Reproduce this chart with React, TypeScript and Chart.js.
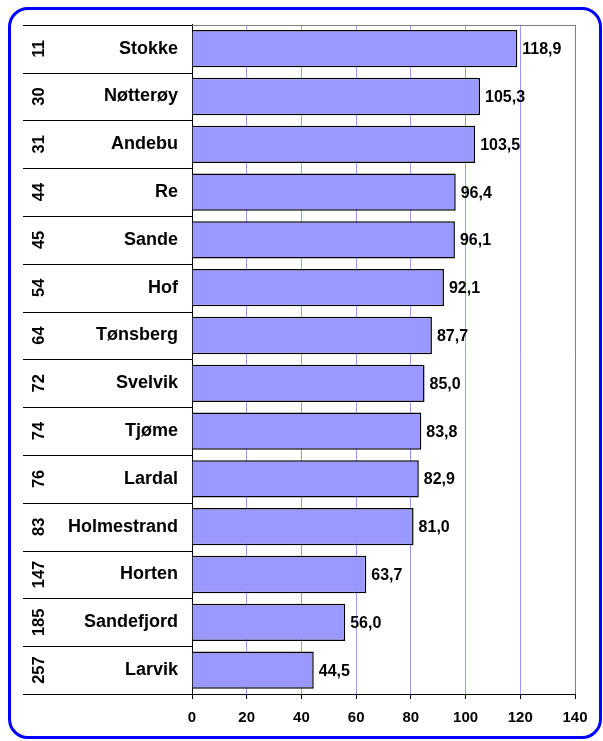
import React, { useEffect, useRef } from "react";
import { Chart, registerables } from "chart.js";

Chart.register(...registerables);

const ranks = ["11", "30", "31", "44", "45", "54", "64", "72", "74", "76", "83", "147", "185", "257"];
const municipalities = [
  "Stokke",
  "Nøtterøy",
  "Andebu",
  "Re",
  "Sande",
  "Hof",
  "Tønsberg",
  "Svelvik",
  "Tjøme",
  "Lardal",
  "Holmestrand",
  "Horten",
  "Sandefjord",
  "Larvik",
];
const values = [118.9, 105.3, 103.5, 96.4, 96.1, 92.1, 87.7, 85.0, 83.8, 82.9, 81.0, 63.7, 56.0, 44.5];
const xMin = 0;
const xMax = 140;
const xStep = 20;

const FONT = '"Liberation Sans", Arial, Helvetica, sans-serif';

export default function App() {
  const ref = useRef<HTMLCanvasElement>(null);

  useEffect(() => {
    const canvas = ref.current;
    if (!canvas) return;

    const extras = {
      id: "extras",
      afterDraw(chart: any) {
        const ctx = chart.ctx as CanvasRenderingContext2D;
        const y = chart.scales.y;
        const area = chart.chartArea;
        const n = municipalities.length;
        ctx.save();
        // category separators in the label area
        ctx.strokeStyle = "#000";
        ctx.lineWidth = 1;
        for (let i = 0; i <= n; i++) {
          const py = Math.round(y.top + (i * (y.bottom - y.top)) / n) + 0.5;
          ctx.beginPath();
          ctx.moveTo(23, py);
          ctx.lineTo(area.left, py);
          ctx.stroke();
        }
        // grey top/right frame of plot area
        ctx.strokeStyle = "#808080";
        const t = Math.round(area.top) + 0.5;
        const r = Math.round(area.right) + 0.5;
        ctx.beginPath();
        ctx.moveTo(area.left, t);
        ctx.lineTo(r, t);
        ctx.lineTo(r, area.bottom);
        ctx.stroke();

        // rank labels (rotated)
        ctx.fillStyle = "#000";
        ctx.font = `bold 16.5px ${FONT}`;
        ctx.textAlign = "center";
        ctx.textBaseline = "middle";
        ranks.forEach((rk, i) => {
          const py = y.getPixelForValue(i);
          ctx.save();
          ctx.translate(39, py);
          ctx.rotate(-Math.PI / 2);
          ctx.fillText(rk, 0, 0);
          ctx.restore();
        });

        // value labels
        const meta = chart.getDatasetMeta(0);
        ctx.textAlign = "left";
        ctx.font = `bold 16px ${FONT}`;
        meta.data.forEach((bar: any, i: number) => {
          ctx.fillText(values[i].toFixed(1).replace(".", ","), bar.x + 5, bar.y + 1);
        });
        ctx.restore();
      },
    };

    const chart = new Chart(canvas, {
      type: "bar",
      data: {
        labels: municipalities,
        datasets: [
          {
            data: values,
            backgroundColor: "#9999ff",
            borderColor: "#000",
            borderWidth: 1.5,
            barPercentage: 0.78,
            categoryPercentage: 1,
          },
        ],
      },
      options: {
        indexAxis: "y",
        responsive: false,
        animation: false,
        layout: { padding: { left: 0, top: 22, right: 28, bottom: 0 } },
        plugins: { legend: { display: false }, tooltip: { enabled: false } },
        scales: {
          x: {
            min: xMin,
            max: xMax,
            ticks: {
              stepSize: xStep,
              font: { family: FONT, size: 15, weight: "bold" },
              color: "#000",
              padding: 10,
            },
            grid: { color: "#9999ff", tickColor: "#000", tickLength: 5, lineWidth: 1 },
            border: { color: "#000", width: 1 },
            afterFit: (s: any) => {
              s.height = 47;
            },
          },
          y: {
            ticks: {
              font: { family: FONT, size: 18, weight: "bold" },
              color: "#000",
              padding: 14,
            },
            grid: { display: false, drawTicks: false },
            border: { display: true, color: "#000", width: 1 },
            afterFit: (s: any) => {
              s.width = 192;
            },
          },
        },
      } as any,
      plugins: [extras],
    });

    return () => chart.destroy();
  }, []);

  return (
    <div style={{ position: "fixed", left: 0, top: 0, width: 603, height: 741, background: "#fff" }}>
      <canvas ref={ref} width={603} height={741} style={{ display: "block" }} />
      <div
        style={{
          position: "absolute",
          left: 8,
          top: 7,
          width: 594,
          height: 732,
          boxSizing: "border-box",
          border: "3px solid #0000ff",
          borderRadius: 20,
          pointerEvents: "none",
        }}
      />
    </div>
  );
}
